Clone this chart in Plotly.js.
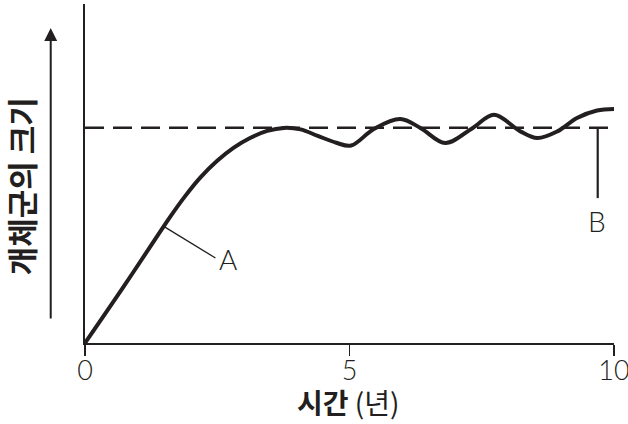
<!DOCTYPE html>
<html>
<head>
<meta charset="utf-8">
<script src="https://cdn.plot.ly/plotly-3.0.1.min.js"></script>
<style>html,body{margin:0;padding:0;background:#fff;}#chart{width:628px;height:424px;}</style>
</head>
<body>
<div id="chart"></div>
<script>
// Time in years and relative population size (carrying capacity = 1)
var years = [0, 0.73, 1.365, 1.616, 1.868, 2.183, 2.499, 2.813, 3.129, 3.444, 3.758, 4.074, 4.40, 4.75, 5.03, 5.46, 5.96, 6.34, 6.81, 7.33, 7.73, 8.23, 8.55, 8.93, 9.30, 9.68, 10.0];
var popSize = [0, 0.262, 0.496, 0.588, 0.674, 0.769, 0.846, 0.907, 0.953, 0.985, 0.999, 0.992, 0.962, 0.930, 0.917, 0.994, 1.040, 0.999, 0.929, 0.999, 1.060, 0.983, 0.952, 0.983, 1.045, 1.080, 1.087];
var capacityX = [0, 10];
var capacityY = [1, 1];
var tickVals = [0, 5, 10];
var tickText = ['0', '5', '10'];
var xTitle = '<b>시간</b> (년)';
var yTitle = '개체군의 크기';
var labelA = 'A';
var labelB = 'B';

var ink = '#231f20';
var koFont = 'Noto Sans CJK KR, sans-serif';
var thinFont = 'Lato, Liberation Sans, sans-serif';

var traces = [
  {x: capacityX, y: capacityY, mode: 'lines', line: {color: ink, width: 2.5, dash: '19px,9px'}, hoverinfo: 'skip', cliponaxis: false},
  {x: years, y: popSize, mode: 'lines', line: {color: ink, width: 4, shape: 'spline', smoothing: 1}, hoverinfo: 'skip', cliponaxis: false}
];

var layout = {
  width: 628, height: 424,
  margin: {l: 85, r: 14, t: 4, b: 81},
  paper_bgcolor: '#fff', plot_bgcolor: '#fff',
  showlegend: false,
  xaxis: {
    range: [0, 10], showgrid: false, zeroline: false,
    showline: true, linecolor: ink, linewidth: 2,
    ticks: 'outside', ticklen: 11, tickwidth: 1.5, tickcolor: ink,
    tickvals: tickVals, ticktext: tickText,
    ticklabeloverflow: 'allow', ticklabelstandoff: -8,
    tickfont: {family: thinFont, size: 27, color: ink, weight: 300},
    fixedrange: true
  },
  yaxis: {
    range: [0, 1.5745], showgrid: false, zeroline: false,
    showline: true, linecolor: ink, linewidth: 2,
    showticklabels: false, ticks: '', fixedrange: true
  },
  shapes: [
    {type: 'line', xref: 'x', yref: 'y', x0: 1.488, y0: 0.5416, x1: 2.465, y1: 0.395, line: {color: ink, width: 1.3}},
    {type: 'line', xref: 'x', yref: 'y', x0: 9.692, y0: 1.0, x1: 9.692, y1: 0.673, line: {color: ink, width: 2.2}}
  ],
  annotations: [
    {xref: 'x', yref: 'y', x: 2.70, y: 0.392, text: labelA, showarrow: false, xanchor: 'center', yanchor: 'middle',
     font: {family: thinFont, size: 28, color: ink, weight: 300}},
    {xref: 'x', yref: 'y', x: 9.673, y: 0.568, text: labelB, showarrow: false, xanchor: 'center', yanchor: 'middle',
     font: {family: thinFont, size: 28, color: ink, weight: 300}},
    {xref: 'paper', yref: 'paper', x: 0.498, y: -0.173, text: xTitle, showarrow: false, xanchor: 'center', yanchor: 'middle',
     font: {family: koFont, size: 28, color: ink}},
    {xref: 'paper', yref: 'paper', x: -0.122, y: 0.4636, text: '<b>' + yTitle + '</b>', textangle: -90, showarrow: false,
     xanchor: 'center', yanchor: 'middle',
     font: {family: koFont, size: 31, color: ink}},
    {xref: 'paper', yref: 'paper', x: -0.0648, y: 0.929, ax: 0, ay: 292, axref: 'pixel', ayref: 'pixel',
     text: '', showarrow: true, arrowhead: 2, arrowsize: 1.3, arrowwidth: 2, arrowcolor: ink, standoff: 0}
  ]
};

Plotly.newPlot('chart', traces, layout, {displayModeBar: false, staticPlot: true});
</script>
</body>
</html>
